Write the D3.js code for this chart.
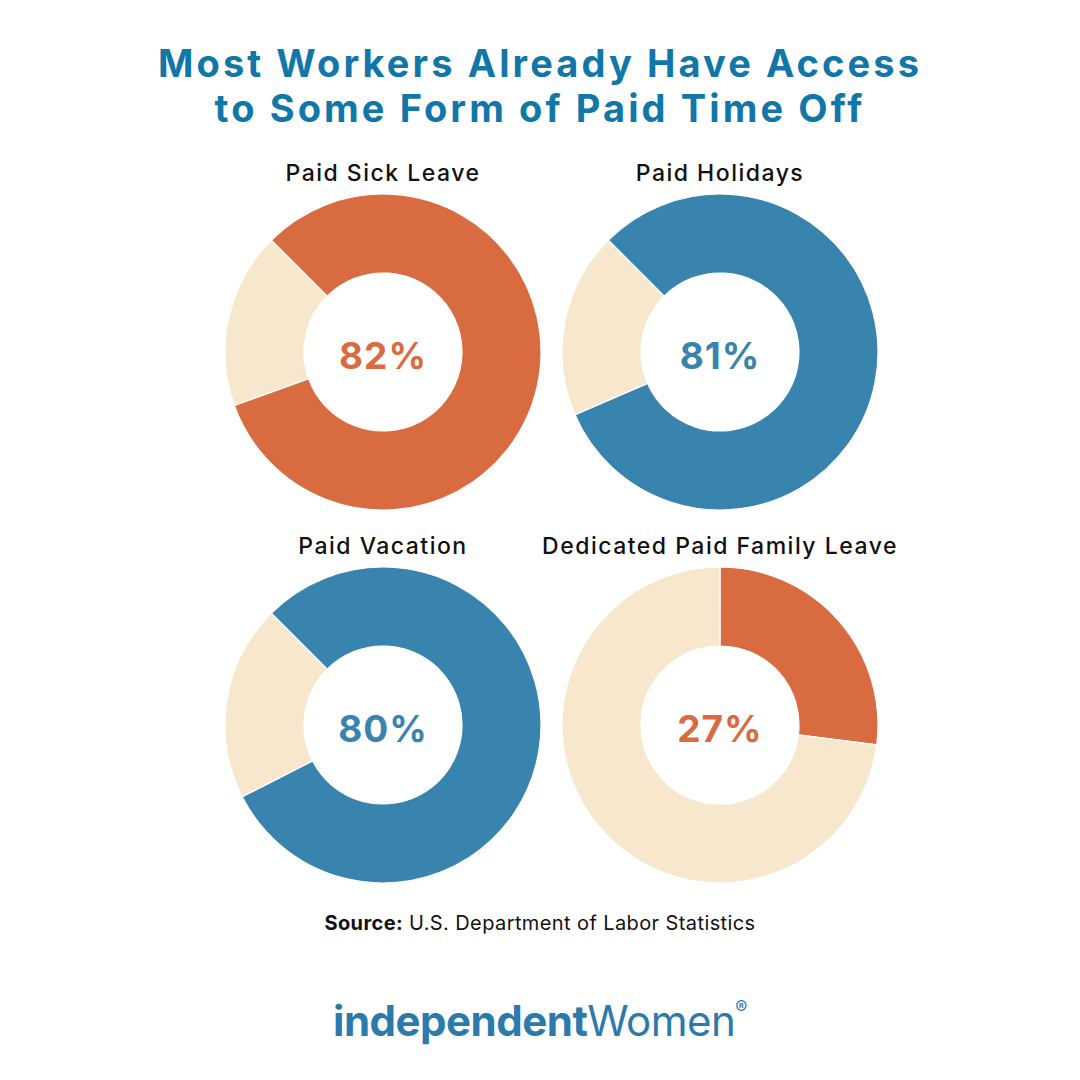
<!DOCTYPE html>
<html>
<head>
<meta charset="utf-8">
<script src="https://cdn.jsdelivr.net/npm/d3@7"></script>
<style>
  html, body { margin: 0; padding: 0; background: #ffffff; }
  svg { display: block; }
</style>
</head>
<body>
<svg id="chart" width="1080" height="1080"></svg>
<script>
// ---- Data ----
const titleLines = ["Most Workers Already Have Access", "to Some Form of Paid Time Off"];
const categories = ["Paid Sick Leave", "Paid Holidays", "Paid Vacation", "Dedicated Paid Family Leave"];
const values = [82, 81, 80, 27];
const seriesColors = ["#D96B41", "#3984AF", "#3984AF", "#D96B41"];
const startAngles = [-45, -45, -45, 0]; // degrees, where the highlighted slice begins
const sourceLabel = "Source:";
const sourceText = " U.S. Department of Labor Statistics";

// ---- Layout ----
const svg = d3.select("#chart");
const W = 1080, H = 1080;
const beige = "#F7E8CD";
const titleColor = "#1077A8";
const font = "Inter, 'Open Sans', 'Liberation Sans', sans-serif";

const outerR = 158, innerR = 79;
const col = d3.scalePoint().domain([0, 1]).range([383, 720]);
const row = d3.scalePoint().domain([0, 1]).range([352, 725]);

// Title
svg.append("g").selectAll("text").data(titleLines).join("text")
  .attr("x", W / 2)
  .attr("y", (d, i) => 77 + i * 45)
  .attr("text-anchor", "middle")
  .attr("font-family", font)
  .attr("font-weight", 700)
  .attr("font-size", 38)
  .attr("letter-spacing", 3.1)
  .attr("fill", titleColor)
  .text(d => d);

const arc = d3.arc().innerRadius(innerR).outerRadius(outerR);

categories.forEach((cat, i) => {
  const cx = col(i % 2);
  const cy = row(Math.floor(i / 2));
  const g = svg.append("g").attr("transform", `translate(${cx},${cy})`);
  const a0 = startAngles[i] * Math.PI / 180;
  const pie = d3.pie().sort(null).value(d => d.v)
    .startAngle(a0).endAngle(a0 + 2 * Math.PI);
  const slices = pie([{ v: values[i], c: seriesColors[i] }, { v: 100 - values[i], c: beige }]);
  g.selectAll("path").data(slices).join("path")
    .attr("d", arc)
    .attr("fill", d => d.data.c)
    .attr("stroke", "#ffffff")
    .attr("stroke-width", 1.2);

  g.append("text")
    .attr("x", 0).attr("y", 17)
    .attr("text-anchor", "middle")
    .attr("font-family", font)
    .attr("font-weight", 700)
    .attr("font-size", 37)
    .attr("letter-spacing", 1)
    .attr("fill", seriesColors[i])
    .text(values[i] + "%");

  g.append("text")
    .attr("x", 0).attr("y", -outerR - 13)
    .attr("text-anchor", "middle")
    .attr("font-family", font)
    .attr("font-weight", 500)
    .attr("font-size", 23)
    .attr("letter-spacing", 1.5)
    .attr("fill", "#111111")
    .text(cat);
});

// Source
const src = svg.append("text")
  .attr("x", W / 2).attr("y", 930)
  .attr("text-anchor", "middle")
  .attr("font-family", font)
  .attr("font-size", 20)
  .attr("letter-spacing", 0.4)
  .attr("fill", "#111111");
src.append("tspan").attr("font-weight", 700).text(sourceLabel);
src.append("tspan").attr("font-weight", 400).text(sourceText);

// Logo
const logo = svg.append("text")
  .attr("x", W / 2).attr("y", 1036)
  .attr("text-anchor", "middle")
  .attr("font-family", font)
  .attr("font-size", 42)
  .attr("letter-spacing", -0.5)
  .attr("fill", "#2C79AC");
logo.append("tspan").attr("font-weight", 700).text("independent");
logo.append("tspan").attr("font-weight", 400).text("Women");
logo.append("tspan").attr("font-weight", 400).attr("font-size", 18).attr("dy", -22).text("®");
</script>
</body>
</html>
